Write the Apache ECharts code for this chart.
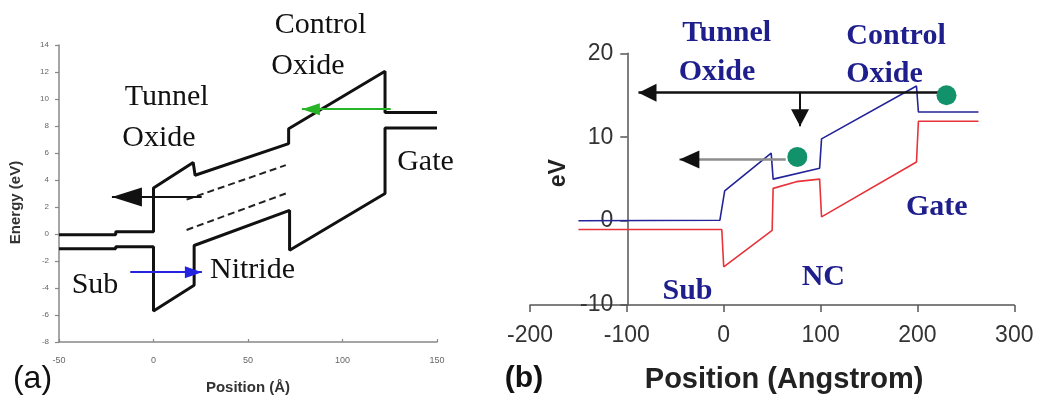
<!DOCTYPE html>
<html><head><meta charset="utf-8">
<script src="https://cdn.jsdelivr.net/npm/echarts@6/dist/echarts.min.js"></script>
<style>html,body{margin:0;padding:0;background:#fff}#c{width:1042px;height:403px}</style>
</head><body><div id="c"></div>
<script>
// ---------- Panel (a) data ----------
const aXRange = [-50, 150], aXStep = 50;
const aYRange = [-8, 14], aYStep = 2;
const aConduction = [[-50,-0.05],[-20,-0.05],[-20,0.17],[0,0.17],[0,3.4],[21,5.3],[22,4.35],[71.5,6.7],[71.5,7.8],[122.5,12.05],[122.5,9.0],[150,9.0]];
const aValence = [[-50,-1.1],[-20,-1.1],[-20,-0.95],[0,-0.95],[0,-5.7],[21.5,-3.8],[21.5,-0.85],[72,1.75],[72,-1.2],[122.5,3.0],[122.5,7.85],[150,7.85]];
const aTrapUpper = [[17.5,2.55],[70,5.1]];
const aTrapLower = [[17.5,0.3],[70,3.0]];
const aArrowTunnel = [[25.5,2.75],[-22,2.75]];
const aArrowGate = [[125.5,9.25],[78.5,9.25]];
const aArrowSub = [[-12.3,-2.83],[25.6,-2.83]];

// ---------- Panel (b) data ----------
const bXRange = [-200, 300], bXStep = 100;
const bYRange = [-10, 20], bYStep = 10;
const bConduction = [[-150,0.05],[-4,0.1],[1,3.6],[49,8.1],[51,5.0],[99,6.3],[101,9.8],[199,16.1],[201,13.0],[263,13.0]];
const bValence = [[-150,-1.0],[-2,-1.0],[0,-5.45],[50,-1.1],[51,3.9],[75,4.7],[99,5.0],[101,0.5],[199,7.05],[201,11.9],[263,11.9]];
const bElectrons = [[230,15.0],[76,7.65]];
const bArrowTop = [[230,15.3],[-88,15.3]];
const bArrowDown = [[78.8,15.3],[78.8,11.3]];
const bArrowGray = [[64,7.35],[-45.8,7.35]];

const SANS = 'Liberation Sans, Arial, sans-serif';
const SERIF = 'Liberation Serif, Times New Roman, serif';
const HEAD = 'path://M5,0 M5,10 L10,20 L0,20 Z';

function arrow(coords, grid, color, width, headW, headL, lineColor) {
  return [{
    type: 'lines', coordinateSystem: 'cartesian2d', xAxisIndex: grid, yAxisIndex: grid,
    polyline: false, silent: true, z: 5,
    symbol: ['none', HEAD], symbolSize: [0, [headW, headL * 2]],
    lineStyle: { color: color, width: lineColor ? 0 : width, curveness: 0, opacity: 1 },
    data: [{ coords: coords }]
  }].concat(lineColor ? [{
    type: 'lines', coordinateSystem: 'cartesian2d', xAxisIndex: grid, yAxisIndex: grid,
    polyline: false, silent: true, z: 4, symbol: ['none', 'none'],
    lineStyle: { color: lineColor, width: width, curveness: 0, opacity: 1 },
    data: [{ coords: coords }]
  }] : []);
}

function band(data, grid, color, width, type) {
  return { type: 'line', xAxisIndex: grid, yAxisIndex: grid, data: data, showSymbol: false, symbol: 'none',
    lineStyle: { color: color, width: width, type: type || 'solid' }, silent: true, z: 3 };
}

function txt(t, x, y, font, fill) {
  return { type: 'text', x: x, y: y, style: { text: t, font: font, fill: fill, align: 'center', verticalAlign: 'middle' }, z: 10 };
}

const chart = echarts.init(document.getElementById('c'), null, { renderer: 'canvas' });
const aTxt = 'normal 30px ' + SERIF, bTxt = 'bold 30px ' + SERIF, NAVY = '#1e1e8c';

chart.setOption({
  animation: false,
  backgroundColor: '#fff',
  grid: [
    { left: 59, top: 45, width: 378, height: 297, outerBoundsMode: 'none', containLabel: false },
    { left: 530, top: 53.3, width: 484.3, height: 251.7, outerBoundsMode: 'none', containLabel: false }
  ],
  xAxis: [
    { gridIndex: 0, type: 'value', min: aXRange[0], max: aXRange[1], interval: aXStep,
      axisLine: { show: true, onZero: false, lineStyle: { color: '#888', width: 1.5 } },
      axisTick: { show: true, inside: true, length: 3, lineStyle: { color: '#888', width: 1.2 } },
      axisLabel: { fontSize: 9, color: '#666', margin: 14, fontFamily: SANS },
      splitLine: { show: false },
      name: 'Position (Å)', nameLocation: 'middle', nameGap: 38,
      nameTextStyle: { fontSize: 15, fontWeight: 'bold', color: '#333', fontFamily: SANS } },
    { gridIndex: 1, type: 'value', min: bXRange[0], max: bXRange[1], interval: bXStep,
      axisLine: { show: true, onZero: false, lineStyle: { color: '#555', width: 1.5 } },
      axisTick: { show: true, inside: false, length: 7, lineStyle: { color: '#555', width: 1.5 } },
      axisLabel: { fontSize: 23, color: '#333', margin: 19, fontFamily: SANS },
      splitLine: { show: false },
      name: 'Position (Angstrom)', nameLocation: 'middle', nameGap: 60,
      nameTextStyle: { fontSize: 29, fontWeight: 'bold', color: '#222', fontFamily: SANS, padding: [0, 0, 0, 24] } }
  ],
  yAxis: [
    { gridIndex: 0, type: 'value', min: aYRange[0], max: aYRange[1], interval: aYStep,
      axisLine: { show: true, onZero: false, lineStyle: { color: '#888', width: 1.5 } },
      axisTick: { show: true, inside: false, length: 4, lineStyle: { color: '#888', width: 1.2 } },
      axisLabel: { fontSize: 8, color: '#666', margin: 10, fontFamily: SANS },
      splitLine: { show: false },
      name: 'Energy (eV)', nameLocation: 'middle', nameGap: 36,
      nameTextStyle: { fontSize: 15, fontWeight: 'bold', color: '#333', fontFamily: SANS, padding: [0, 18, 0, 0] } },
    { gridIndex: 1, type: 'value', min: bYRange[0], max: bYRange[1], interval: bYStep, offset: -97.3,
      axisLine: { show: true, onZero: false, lineStyle: { color: '#555', width: 1.5 } },
      axisTick: { show: true, inside: false, length: 7, lineStyle: { color: '#555', width: 1.5 } },
      axisLabel: { fontSize: 23, color: '#333', margin: 14, fontFamily: SANS },
      splitLine: { show: false },
      name: 'eV', nameLocation: 'middle', nameGap: 57,
      nameTextStyle: { fontSize: 23, fontWeight: 'bold', color: '#222', fontFamily: SANS, padding: [0, 0, 0, 12] } }
  ],
  series: [
    band(aConduction, 0, '#111', 3),
    band(aValence, 0, '#111', 3),
    band(aTrapUpper, 0, '#222', 2, [7, 4]),
    band(aTrapLower, 0, '#222', 2, [7, 4]),
    band(bConduction, 1, '#24249a', 1.6),
    band(bValence, 1, '#e8333a', 1.6),
    { type: 'scatter', xAxisIndex: 1, yAxisIndex: 1, data: bElectrons, symbolSize: 20,
      itemStyle: { color: '#12926a', opacity: 1 }, silent: true, z: 6 }
  ]
  .concat(arrow(aArrowTunnel, 0, '#111', 2, 19, 30))
  .concat(arrow(aArrowGate, 0, '#27b527', 2, 12, 18))
  .concat(arrow(aArrowSub, 0, '#2323e0', 2, 12, 17))
  .concat(arrow(bArrowTop, 1, '#111', 2.5, 18, 18))
  .concat(arrow(bArrowDown, 1, '#111', 2, 18, 17))
  .concat(arrow(bArrowGray, 1, '#111', 2.5, 18, 20, '#8c8c8c')),
  graphic: [
    txt('Control', 320.5, 25, aTxt, '#111'),
    txt('Oxide', 308, 66, aTxt, '#111'),
    txt('Tunnel', 166.7, 97, aTxt, '#111'),
    txt('Oxide', 159, 138.5, aTxt, '#111'),
    txt('Gate', 425.5, 162, aTxt, '#111'),
    txt('Sub', 95, 285, aTxt, '#111'),
    txt('Nitride', 252.5, 270, aTxt, '#111'),
    txt('(a)', 32.5, 379, 'normal 32px ' + SANS, '#111'),
    txt('Tunnel', 726.7, 33.5, bTxt, NAVY),
    txt('Oxide', 717, 72, bTxt, NAVY),
    txt('Control', 896, 36, bTxt, NAVY),
    txt('Oxide', 884.5, 74, bTxt, NAVY),
    txt('Gate', 936.7, 207, bTxt, NAVY),
    txt('NC', 823.3, 277, bTxt, NAVY),
    txt('Sub', 687.5, 291, bTxt, NAVY),
    txt('(b)', 524, 378.5, 'bold 30px ' + SANS, '#111')
  ]
});
</script>
</body></html>
